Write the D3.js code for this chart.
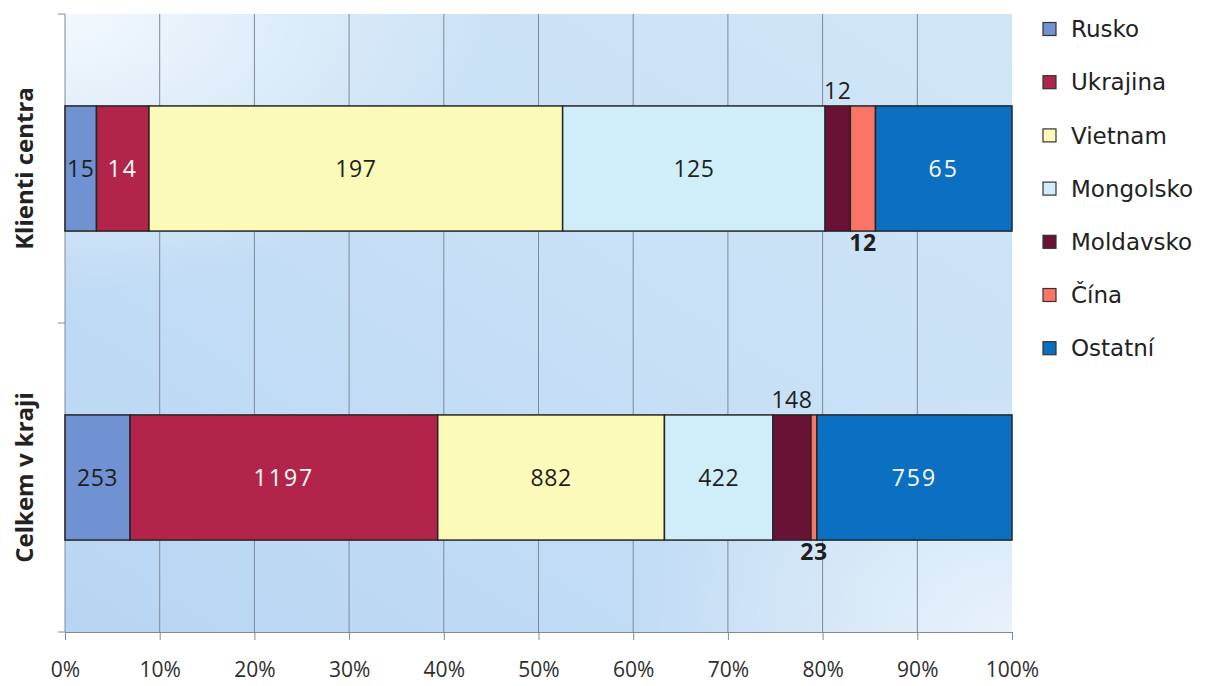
<!DOCTYPE html>
<html>
<head>
<meta charset="utf-8">
<script src="https://cdn.jsdelivr.net/npm/d3@7"></script>
<style>
    body { margin: 0; background: #ffffff; }
    svg { display: block; }
</style>
</head>
<body>
<svg id="chart" width="1205" height="686"></svg>
<script>
// data
const categories = ['Klienti centra', 'Celkem v kraji'];
const series = ['Rusko', 'Ukrajina', 'Vietnam', 'Mongolsko', 'Moldavsko', 'Čína', 'Ostatní'];
// bar widths (Ukrajina bar in "Klienti centra" is wider than its printed 14)
const klientiValues = [15, 25, 197, 125, 12, 12, 65];
const klientiLabels = ['15', '14', '197', '125', '12', '12', '65'];
const krajValues = [253, 1197, 882, 422, 148, 23, 759];
const krajLabels = ['253', '1197', '882', '422', '148', '23', '759'];
const colors = ['#7092d2', '#b3244a', '#fbfab8', '#cfeefa', '#6a1236', '#fa7467', '#0b6fc2'];
const labelColors = ['#1e1e1e', '#ffffff', '#1e1e1e', '#1e1e1e', '#1e1e1e', '#1e1e1e', '#ffffff'];
const labelPlace = ['in', 'in', 'in', 'in', 'above', 'below', 'in'];
const xTicks = [0, 0.1, 0.2, 0.3, 0.4, 0.5, 0.6, 0.7, 0.8, 0.9, 1];

const svg = d3.select('#chart');
const plot = { left: 65, right: 1012, top: 14, bottom: 632 };

const rows = [
    { name: categories[0], values: klientiValues, labels: klientiLabels },
    { name: categories[1], values: krajValues, labels: krajLabels }
];

const x = d3.scaleLinear().domain([0, 1]).range([plot.left, plot.right]);
const y = d3.scaleBand()
    .domain(categories)
    .range([plot.top, plot.bottom])
    .paddingInner(0.595)
    .paddingOuter(0.2975);

// background gradient
const defs = svg.append('defs');
const grad = defs.append('linearGradient')
    .attr('id', 'bg')
    .attr('x1', '0%').attr('y1', '100%')
    .attr('x2', '100%').attr('y2', '0%');
grad.append('stop').attr('offset', '0%').attr('stop-color', '#b7d5f2');
grad.append('stop').attr('offset', '55%').attr('stop-color', '#c8e0f6');
grad.append('stop').attr('offset', '100%').attr('stop-color', '#d0e6f8');
const glow = defs.append('radialGradient')
    .attr('id', 'glow')
    .attr('cx', '0%').attr('cy', '0%').attr('r', '45%');
glow.append('stop').attr('offset', '0%').attr('stop-color', '#ffffff').attr('stop-opacity', 0.8);
glow.append('stop').attr('offset', '100%').attr('stop-color', '#ffffff').attr('stop-opacity', 0);
const glow2 = defs.append('radialGradient')
    .attr('id', 'glow2')
    .attr('cx', '100%').attr('cy', '100%').attr('r', '40%');
glow2.append('stop').attr('offset', '0%').attr('stop-color', '#ffffff').attr('stop-opacity', 0.6);
glow2.append('stop').attr('offset', '100%').attr('stop-color', '#ffffff').attr('stop-opacity', 0);

['url(#bg)', 'url(#glow)', 'url(#glow2)'].forEach((fill) => {
    svg.append('rect')
        .attr('x', plot.left)
        .attr('y', plot.top)
        .attr('width', plot.right - plot.left)
        .attr('height', plot.bottom - plot.top)
        .attr('fill', fill);
});

// grid lines
svg.append('g')
    .selectAll('line')
    .data(xTicks.filter((t) => t > 0 && t < 1))
    .enter()
    .append('line')
    .attr('x1', (d) => x(d))
    .attr('x2', (d) => x(d))
    .attr('y1', plot.top)
    .attr('y2', plot.bottom)
    .attr('stroke', '#7d8a98')
    .attr('stroke-width', 1);

// x axis
const xAxis = svg.append('g')
    .attr('transform', `translate(0, ${plot.bottom})`)
    .call(d3.axisBottom(x)
        .tickValues(xTicks)
        .tickFormat(d3.format('.0%'))
        .tickSize(8)
        .tickPadding(22)
        .tickSizeOuter(0));
xAxis.select('.domain').attr('stroke', '#7d8a98');
xAxis.selectAll('.tick line').attr('stroke', '#7d8a98');
xAxis.selectAll('.tick text')
    .attr('fill', '#2e2e2e')
    .attr('font-family', '"Open Sans", sans-serif')
    .attr('font-size', 21);

// y axis line and category separators
svg.append('line')
    .attr('x1', plot.left).attr('x2', plot.left)
    .attr('y1', plot.top).attr('y2', plot.bottom)
    .attr('stroke', '#7d8a98');
svg.append('g')
    .selectAll('line')
    .data([plot.top, (plot.top + plot.bottom) / 2, plot.bottom])
    .enter()
    .append('line')
    .attr('x1', plot.left - 7)
    .attr('x2', plot.left)
    .attr('y1', (d) => d)
    .attr('y2', (d) => d)
    .attr('stroke', '#7d8a98');

// category labels
svg.append('g')
    .selectAll('text')
    .data(categories)
    .enter()
    .append('text')
    .attr('transform', (d) => `translate(33, ${y(d) + y.bandwidth() / 2}) rotate(-90)`)
    .attr('text-anchor', 'middle')
    .attr('font-family', '"Open Sans", sans-serif')
    .attr('font-weight', 700)
    .attr('font-size', 24)
    .attr('fill', '#222222')
    .text((d) => d);

// bars
rows.forEach((row) => {
    const total = d3.sum(row.values);
    const cum = d3.cumsum(row.values);
    const segs = row.values.map((v, i) => ({
        i,
        x0: (cum[i] - v) / total,
        x1: cum[i] / total,
        label: row.labels[i]
    }));
    const top = y(row.name);
    const bw = y.bandwidth();
    const g = svg.append('g');
    g.selectAll('rect')
        .data(segs)
        .enter()
        .append('rect')
        .attr('x', (d) => x(d.x0))
        .attr('y', top)
        .attr('width', (d) => x(d.x1) - x(d.x0))
        .attr('height', bw)
        .attr('fill', (d) => colors[d.i])
        .attr('stroke', '#262626')
        .attr('stroke-width', 1.5);
    g.selectAll('text')
        .data(segs)
        .enter()
        .append('text')
        .attr('x', (d) => x((d.x0 + d.x1) / 2))
        .attr('y', (d) => {
            if (labelPlace[d.i] === 'above') return top - 15;
            if (labelPlace[d.i] === 'below') return top + bw + 12;
            return top + bw / 2;
        })
        .attr('dy', '0.36em')
        .attr('text-anchor', 'middle')
        .attr('font-family', '"Open Sans", sans-serif')
        .attr('font-size', 23)
        .attr('font-weight', (d) => (labelPlace[d.i] === 'below' ? 700 : 400))
        .attr('letter-spacing', (d) => (labelColors[d.i] === '#ffffff' ? 2 : 0.5))
        .attr('fill', (d) => (labelPlace[d.i] === 'in' ? labelColors[d.i] : '#1e1e1e'))
        .text((d) => d.label);
});

// legend
const legend = svg.append('g')
    .selectAll('g')
    .data(series)
    .enter()
    .append('g')
    .attr('transform', (d, i) => `translate(1043, ${29 + i * 53.2})`);
legend.append('rect')
    .attr('x', 0)
    .attr('y', -6.5)
    .attr('width', 13)
    .attr('height', 13)
    .attr('fill', (d, i) => colors[i])
    .attr('stroke', '#333333')
    .attr('stroke-width', 1.2);
legend.append('text')
    .attr('x', 28)
    .attr('y', 0)
    .attr('dy', '0.36em')
    .attr('font-family', '"DejaVu Sans", sans-serif')
    .attr('font-size', 23)
    .attr('fill', '#222222')
    .text((d) => d);
</script>
</body>
</html>
